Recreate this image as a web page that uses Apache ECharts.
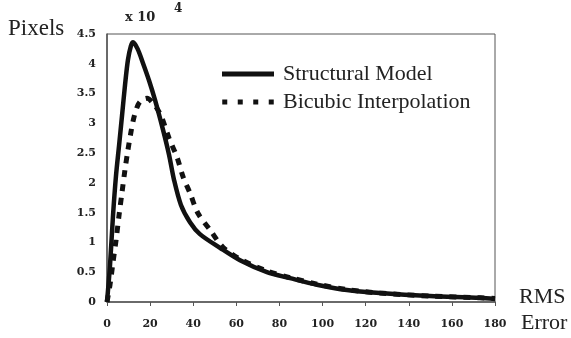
<!DOCTYPE html>
<html>
<head>
<meta charset="utf-8">
<script src="https://cdn.jsdelivr.net/npm/echarts@6/dist/echarts.min.js"></script>
<style>html,body{margin:0;padding:0;background:#fff}#c{width:571px;height:338px}</style>
</head>
<body>
<div id="c"></div>
<script>
// RMS error values (x) and pixel counts (x 10^4)
var structX = [0, 1.4, 2.8, 4.2, 5.6, 7.0, 8.35, 9.7, 11.1, 12.1, 14.2, 16.7, 19.5, 22.3, 26.0, 28.8, 31.1, 34.3, 38.5, 43.1, 52.4, 61.7, 74.2, 84.9, 97.4, 111.3, 126.6, 149.8, 173, 180];
var structY = [0, 0.62, 1.46, 2.13, 2.63, 3.14, 3.64, 4.06, 4.30, 4.36, 4.25, 4.01, 3.72, 3.39, 2.89, 2.47, 2.05, 1.63, 1.34, 1.14, 0.91, 0.70, 0.50, 0.40, 0.29, 0.20, 0.15, 0.10, 0.07, 0.05];
var bicubX = [0, 1.4, 2.8, 4.2, 5.6, 7.0, 8.3, 9.7, 11.1, 12.5, 14.4, 16.2, 18.6, 21.3, 23.7, 25.5, 28.8, 32.5, 35.3, 38.5, 42.2, 47.8, 53.8, 61.7, 74.2, 84.9, 97.4, 111.3, 126.6, 149.8, 173, 180];
var bicubY = [0, 0.29, 0.67, 1.04, 1.46, 1.85, 2.21, 2.55, 2.85, 3.10, 3.31, 3.39, 3.42, 3.34, 3.22, 3.09, 2.75, 2.43, 2.10, 1.83, 1.49, 1.21, 0.92, 0.72, 0.52, 0.41, 0.30, 0.21, 0.15, 0.10, 0.07, 0.06];
var seriesNames = ['Structural Model', 'Bicubic Interpolation'];
var xTicks = [0, 20, 40, 60, 80, 100, 120, 140, 160, 180];
var yTicks = [0, 0.5, 1, 1.5, 2, 2.5, 3, 3.5, 4, 4.5];

function pairs(xs, ys) { return xs.map(function (x, i) { return [x, ys[i]]; }); }

var chart = echarts.init(document.getElementById('c'), null, {renderer: 'canvas'});
var tickFont = {fontFamily: 'DejaVu Serif', fontWeight: 'bold', fontSize: 11, color: '#222'};
chart.setOption({
  animation: false,
  backgroundColor: '#fff',
  grid: {left: 107, right: 76, top: 34, bottom: 36, show: true, borderColor: '#555', borderWidth: 1},
  xAxis: {
    type: 'value', min: xTicks[0], max: xTicks[xTicks.length - 1], interval: 20,
    axisLine: {show: true, lineStyle: {color: '#555', width: 1.5}},
    axisTick: {show: true, inside: false, length: 4, lineStyle: {color: '#555'}},
    splitLine: {show: false},
    axisLabel: Object.assign({margin: 17}, tickFont)
  },
  yAxis: {
    type: 'value', min: yTicks[0], max: yTicks[yTicks.length - 1], interval: 0.5,
    axisLine: {show: true, lineStyle: {color: '#555', width: 1.5}},
    axisTick: {show: false},
    splitLine: {show: false},
    axisLabel: Object.assign({margin: 11}, tickFont)
  },
  legend: {
    orient: 'vertical', left: 217, top: 58, itemWidth: 52, itemHeight: 5, itemGap: 6,
    textStyle: {fontFamily: 'Liberation Serif', fontSize: 22, color: '#222', padding: [0, 0, 0, 4]},
    data: [
      {name: seriesNames[0], icon: 'rect', itemStyle: {color: '#111'}},
      {name: seriesNames[1], icon: 'path://M0,0h5v5h-5z M15.5,0h5v5h-5z M31,0h5v5h-5z M46.5,0h5v5h-5z', itemStyle: {color: '#111'}}
    ]
  },
  series: [
    {
      name: seriesNames[0], type: 'line', smooth: 0.3, symbol: 'none',
      data: pairs(structX, structY),
      lineStyle: {color: '#111', width: 4.5, type: 'solid'},
      itemStyle: {color: '#111'}, z: 3
    },
    {
      name: seriesNames[1], type: 'line', smooth: 0.3, symbol: 'none',
      data: pairs(bicubX, bicubY),
      lineStyle: {color: '#111', width: 5, type: [7, 7]},
      itemStyle: {color: '#111'}, z: 2
    }
  ],
  graphic: [
    {type: 'text', left: 8, top: 17, style: {text: 'Pixels', font: '23px "Liberation Serif"', fill: '#222'}},
    {type: 'text', left: 125, top: 11, style: {text: 'x 10', font: 'bold 13px "DejaVu Serif"', fill: '#222'}},
    {type: 'text', left: 174, top: 3, style: {text: '4', font: 'bold 12px "DejaVu Serif"', fill: '#222'}},
    {type: 'text', left: 519, top: 286, style: {text: 'RMS', font: '22px "Liberation Serif"', fill: '#222'}},
    {type: 'text', left: 521, top: 312, style: {text: 'Error', font: '22px "Liberation Serif"', fill: '#222'}}
  ]
});
</script>
</body>
</html>
